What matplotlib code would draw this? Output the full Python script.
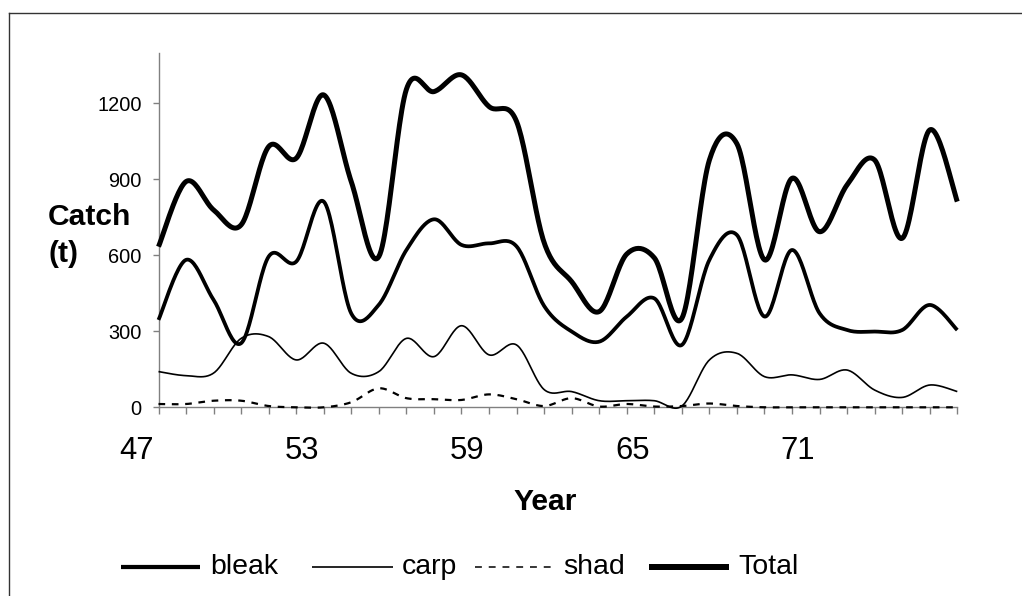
import numpy as np
import matplotlib
matplotlib.use("Agg")
import matplotlib.pyplot as plt
from matplotlib.lines import Line2D
import matplotlib.transforms as mtransforms

plt.rcParams['font.family'] = ['Liberation Sans', 'DejaVu Sans']

# ---- data ----
years = list(range(47, 77))
total = [634, 891, 779, 720, 1029, 983, 1233, 890, 595, 1255, 1246, 1312, 1187, 1128,
         650, 496, 378, 605, 590, 351, 976, 1040, 582, 904, 693, 878, 976, 667, 1095, 812]
bleak = [345, 582, 424, 253, 595, 575, 812, 370, 405, 621, 742, 641, 647, 635,
         400, 299, 259, 358, 430, 246, 582, 680, 358, 621, 371, 305, 299, 305, 404, 305]
carp = [141, 125, 135, 272, 279, 187, 253, 134, 141, 272, 200, 322, 207, 246,
        70, 62, 26, 26, 26, 5, 187, 213, 121, 128, 110, 147, 68, 39, 88, 62]
shad = [13, 13, 26, 26, 5, 0, 0, 20, 75, 36, 32, 29, 51, 32,
        5, 36, 3, 13, 3, 5, 15, 5, 0, 0, 0, 0, 0, 0, 0, 0]
year_labels = ["47", "53", "59", "65", "71"]
y_ticks = [0, 300, 600, 900, 1200]


def smooth(y, n=24):
    """Excel-like smoothed line (Catmull-Rom Bezier)."""
    y = np.asarray(y, float)
    x = np.arange(len(y), dtype=float)
    P = np.column_stack([x, y])
    Pe = np.vstack([P[0], P, P[-1]])
    out = []
    t = np.linspace(0, 1, n, endpoint=False)[:, None]
    for i in range(len(P) - 1):
        p0, p1, p2, p3 = Pe[i], Pe[i + 1], Pe[i + 2], Pe[i + 3]
        b1 = p1 + (p2 - p0) / 6.0
        b2 = p2 - (p3 - p1) / 6.0
        seg = ((1 - t) ** 3) * p1 + 3 * ((1 - t) ** 2) * t * b1 + 3 * (1 - t) * t ** 2 * b2 + t ** 3 * p2
        out.append(seg)
    out.append(P[-1][None, :])
    out = np.vstack(out)
    return out[:, 0], out[:, 1]


fig = plt.figure(figsize=(10.22, 5.96), dpi=100)
W, H = 1022, 596
ax = fig.add_axes([158.5 / W, (H - 407.3) / H, (957.3 - 158.5) / W, (407.3 - 52.6) / H])

styles = {
    "bleak": dict(color="black", lw=2.7, ls="-"),
    "carp": dict(color="black", lw=1.2, ls="-"),
    "shad": dict(color="black", lw=1.6, ls=(0, (3, 3))),
    "Total": dict(color="black", lw=3.6, ls="-"),
}
series = {"bleak": bleak, "carp": carp, "shad": shad, "Total": total}
for name, vals in series.items():
    xs, ys = smooth(vals)
    ax.plot(xs, ys, solid_capstyle="butt", dash_capstyle="butt", solid_joinstyle="round",
            clip_on=False, zorder=3, **styles[name])

ax.set_xlim(0, len(years) - 1)
ax.set_ylim(0, 1400)
for s in ["top", "right"]:
    ax.spines[s].set_visible(False)
for s in ["left", "bottom"]:
    ax.spines[s].set_color("#808080")
    ax.spines[s].set_linewidth(1.0)

ax.set_yticks(y_ticks)
ax.set_yticklabels([str(v) for v in y_ticks], fontsize=14.4)
ax.tick_params(axis="y", length=4.5, width=1.0, color="#808080", pad=7.5, direction="out")
ax.set_xticks(np.arange(len(years)))
ax.set_xticklabels([])
ax.tick_params(axis="x", length=5, width=1.0, color="#808080", direction="out")

# year labels (every 6 categories, shifted as in the original)
trans = mtransforms.blended_transform_factory(ax.transData, fig.transFigure)
for k, lab in enumerate(year_labels):
    ax.text(6 * k - 0.8, (H - 451) / H, lab, transform=trans, ha="center", va="center",
            fontsize=22.3, clip_on=False)

fig.text(545.5 / W, (H - 502.5) / H, "Year", ha="center", va="center",
         fontsize=21.6, fontweight="bold")
fig.text(48 / W, (H - 225) / H, "Catch", ha="left", va="baseline",
         fontsize=21.6, fontweight="bold")
fig.text(48 / W, (H - 262) / H, "(t)", ha="left", va="baseline",
         fontsize=21.6, fontweight="bold")

# legend (manual, matching original spacing)
leg_y = (H - 566.5) / H
leg_items = [("bleak", 121, 200, 210, 4.2 * 0.72),
             ("carp", 312, 393, 402, 1.2),
             ("shad", 475, 552, 563, 1.1),
             ("Total", 649, 729, 738, 6.0 * 0.72)]
for name, x0, x1, xt, lw in leg_items:
    st = dict(styles[name])
    st["lw"] = lw
    if name == "shad":
        st["ls"] = (0, (4.5, 4.5))
    fig.add_artist(Line2D([x0 / W, x1 / W], [leg_y, leg_y], transform=fig.transFigure,
                          solid_capstyle="butt", dash_capstyle="butt", **st))
    fig.text(xt / W, leg_y, name, ha="left", va="center", fontsize=20.5)

# outer chart border (left and top edges visible)
fig.add_artist(Line2D([8.5 / W, 8.5 / W], [0, (H - 12.7) / H], transform=fig.transFigure,
                      color="#333333", lw=1.0))
fig.add_artist(Line2D([8.5 / W, 1], [(H - 12.7) / H, (H - 12.7) / H], transform=fig.transFigure,
                      color="#333333", lw=1.0))

fig.savefig("out.png", dpi=100)
